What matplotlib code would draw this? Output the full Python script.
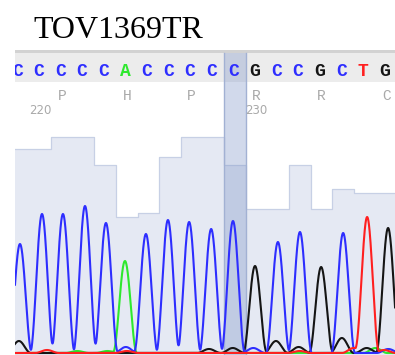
import numpy as np
import matplotlib.pyplot as plt

# ------ Data -------------------------------
bases = ['C', 'C', 'C', 'C', 'C', 'A', 'C', 'C', 'C', 'C', 'C', 'G', 'C', 'C', 'G', 'C', 'T', 'G']
positions = list(range(219, 237))
quality = [51, 51, 54, 54, 47, 34, 35, 49, 54, 54, 47, 36, 36, 47, 36, 41, 40, 40]
aa_letters = ['P', 'H', 'P', 'R', 'R', 'C']
aa_positions = [221, 224, 227, 230, 233, 236]
number_positions = [220, 230]
selected = 229

# main peaks (called bases)
peak_pos = [219.05, 220.07, 221.04, 222.06, 223.03, 223.91, 224.88, 225.90, 226.88,
            227.90, 228.91, 229.93, 230.99, 232.01, 232.99, 234.01, 235.12, 236.09]
peak_height = [109, 139, 139, 147, 130, 92, 119, 133, 131, 124, 132, 87, 111, 121, 86, 120, 136, 125]

# small background peaks per channel
minor_pos = {'G': [219.0, 227.8, 228.9, 230.9, 231.95, 233.95, 235.1],
             'C': [223.95, 229.85, 236.1],
             'A': [221.7, 223.1, 235.5],
             'T': [220.3, 224.0, 232.0, 234.5, 235.9]}
minor_height = {'G': [12, 4, 5, 12, 6, 15, 5],
                'C': [6, 5, 4],
                'A': [2, 2, 5],
                'T': [3, 2, 2, 5, 3]}

colors = {'C': '#2e2eff', 'A': '#2ee82e', 'G': '#151515', 'T': '#ff2020'}

# ------ Set up figure layout --------
fig = plt.figure(figsize=(3.95, 3.55), dpi=100)
fig.text(33 / 395, 1 - 38 / 355, 'TOV1369TR', fontsize=23, family='Liberation Serif',
         ha='left', va='baseline')
ax = fig.add_axes([15 / 395, 0, 380 / 395, 305 / 355])
ax.set_xlim(218.82, 236.41)
ax.set_ylim(0, 305)
ax.axis('off')

# ------ Base call row --------
ax.axhspan(273, 302, color='#ececec', lw=0, zorder=1)
ax.axhspan(302, 305, color='#d2d2d2', lw=0, zorder=1)
for p, b in zip(positions, bases):
    ax.text(p - 0.08, 284, b, color=colors[b], fontsize=13, fontweight='bold',
            family='Liberation Mono', ha='center', va='center', zorder=3, clip_on=True)
for p, a in zip(aa_positions, aa_letters):
    ax.text(p, 259, a, color='#a9a9a9', fontsize=10.5, family='Liberation Mono',
            ha='center', va='center', zorder=3)
for p in number_positions:
    ax.text(p, 244, str(p), color='#a9a9a9', fontsize=8.5, family='DejaVu Sans',
            ha='center', va='center', zorder=3)

# ------ Quality bars --------
q_scale = 4
q_y = [2 + q_scale * q for q in quality]
edges = [p - 0.5 for p in positions] + [positions[-1] + 0.5]
ax.fill_between(edges, 0, q_y + [q_y[-1]], step='post', color='#e5e9f3', lw=0, zorder=1)
ax.step(edges, q_y + [q_y[-1]], where='post', color='#c7d0e5', lw=0.9, zorder=1.5)

# ------ Selected base highlight --------
ax.axvspan(selected - 0.5, selected + 0.5, ymax=302 / 305, color='#8096c8', alpha=0.36,
           lw=0, zorder=2)
for e in (selected - 0.5, selected + 0.5):
    ax.plot([e, e], [0, 302], color='#a2b1d3', lw=1, zorder=2)

# ------ Traces --------
x = np.linspace(218.5, 236.6, 3000)
half = 0.55
for ch in ['A', 'G', 'C', 'T']:
    pos = [p for p, b in zip(peak_pos, bases) if b == ch] + minor_pos[ch]
    hts = [h for h, b in zip(peak_height, bases) if b == ch] + minor_height[ch]
    y = np.full_like(x, 2.0)
    for p, h in zip(pos, hts):
        d = np.abs(x - p)
        y += np.where(d < half, h * np.cos(np.pi * d / (2 * half)) ** 2, 0)
    ax.plot(x, y, color=colors[ch], lw=1.5, zorder=4, solid_joinstyle='round')

plt.savefig('out.png', dpi=100)
